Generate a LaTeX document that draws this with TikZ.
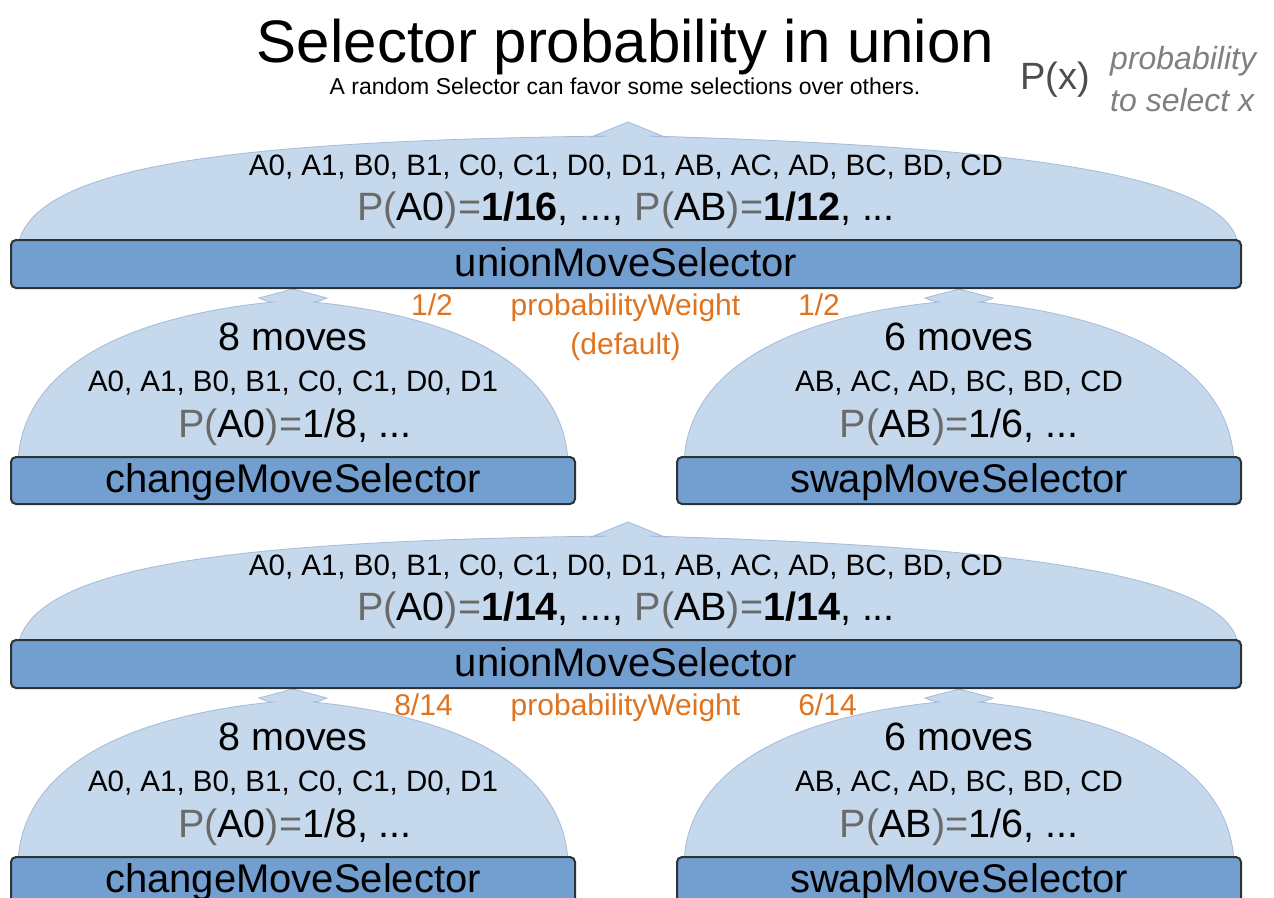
\documentclass[tikz,border=0pt]{standalone}
\usepackage{fontspec}
\setmainfont{Liberation Sans}
\definecolor{boxblue}{HTML}{729FCF}
\definecolor{arrowblue}{HTML}{C6D8EC}
\definecolor{arrowedge}{HTML}{A3BCD9}
\definecolor{boxedge}{HTML}{2E3436}
\definecolor{pgray}{HTML}{6A6A6A}
\definecolor{legendgray}{HTML}{4D4D4D}
\definecolor{italgray}{HTML}{808080}
\definecolor{worange}{HTML}{E0731F}
\newcommand\Pg{\textcolor{pgray}{P(}}
\newcommand\Pc{\textcolor{pgray}{)=}}
\tikzset{
  arrowstyle/.style={fill=arrowblue, draw=arrowedge, line width=0.8},
  selbox/.style={draw=boxedge, fill=boxblue, line width=2, rounded corners=5, inner sep=0},
  boxlabel/.style={inner sep=0, anchor=base, font=\fontsize{40}{48}\selectfont},
  bigtxt/.style={inner sep=0, anchor=base, font=\fontsize{39.5}{47}\selectfont},
  listtxt/.style={inner sep=0, anchor=base, font=\fontsize{29.5}{35}\selectfont},
  ortxt/.style={inner sep=0, anchor=base, text=worange, font=\fontsize{30}{36}\selectfont},
}
\newcommand\childarrow[1]{%
  \begin{scope}[shift={(#1,0)}]
    \filldraw[arrowstyle] (-275,462) .. controls (-270,360) and (-152,315) .. (-20,302)
      .. controls (-27,301) .. (-34,298) -- (0,289) -- (34,298)
      .. controls (27,301) .. (20,302)
      .. controls (152,315) and (270,360) .. (275,462) -- cycle;
  \end{scope}}
% #1 prefix, #2 y shift, #3 P(A0) value, #4 P(AB) value, #5 left x, #6 left weight, #7 right x, #8 right weight
\newcommand\drawtier[8]{%
  \begin{scope}[shift={(0,#2)}, name prefix=#1-]
    % union arrow
    \filldraw[arrowstyle] (18,245) .. controls (35,162) and (250,141) .. (607,136)
      .. controls (599,136) .. (591,137) -- (628,122) -- (665,137)
      .. controls (657,136) .. (649,136)
      .. controls (950,145) and (1228,165) .. (1238,245) -- cycle;
    \node[listtxt] (ulist) at (626,175) {A0, A1, B0, B1, C0, C1, D0, D1, AB, AC, AD, BC, BD, CD};
    \node[bigtxt] (uprob) at (626,220) {\Pg A0\Pc\textbf{#3}, ..., \Pg AB\Pc\textbf{#4}, ...};
    % child arrows
    \childarrow{293}
    \childarrow{959}
    % union box
    \node[selbox, minimum width=1230, minimum height=48] (ubox) at (626,264) {};
    \node[boxlabel] (ulabel) at (626,276.5) {unionMoveSelector};
    % weights
    \node[ortxt] (wleft) at (#5,315) {#6};
    \node[ortxt] (wmid) at (625.5,315) {probabilityWeight};
    \node[ortxt] (wright) at (#7,315) {#8};
    % change selector
    \node[bigtxt] (cmoves) at (293,350) {8 moves};
    \node[listtxt] (clist) at (293,391) {A0, A1, B0, B1, C0, C1, D0, D1};
    \node[bigtxt] (cprob) at (295,437) {\Pg A0\Pc 1/8, ...};
    \node[selbox, minimum width=564, minimum height=47] (cbox) at (293,480.5) {};
    \node[boxlabel] (clabel) at (293,492.5) {changeMoveSelector};
    % swap selector
    \node[bigtxt] (smoves) at (959,350) {6 moves};
    \node[listtxt] (slist) at (959,391) {AB, AC, AD, BC, BD, CD};
    \node[bigtxt] (sprob) at (959,437) {\Pg AB\Pc 1/6, ...};
    \node[selbox, minimum width=564, minimum height=47] (sbox) at (959,480.5) {};
    \node[boxlabel] (slabel) at (959,492.5) {swapMoveSelector};
  \end{scope}}
\begin{document}
\begin{tikzpicture}[x=1pt, y=-1pt]
  \useasboundingbox (0,0) rectangle (1274,897);
  \clip (0,0) rectangle (1274,897);
  \fill[white] (0,0) rectangle (1274,897);
  \node[inner sep=0, anchor=base, font=\fontsize{60}{70}\selectfont] (title) at (625.5,62) {Selector probability in union};
  \node[inner sep=0, anchor=base, font=\fontsize{23}{27}\selectfont] (subtitle) at (625,94) {A random Selector can favor some selections over others.};
  \node[inner sep=0, anchor=base west, text=legendgray, font=\fontsize{38}{45}\selectfont] (px) at (1020,89) {P(x)};
  \node[inner sep=0, anchor=base west, text=italgray, font=\fontsize{32}{38}\selectfont\itshape] (pxl1) at (1110,69) {probability};
  \node[inner sep=0, anchor=base west, text=italgray, font=\fontsize{32}{38}\selectfont\itshape] (pxl2) at (1110,111) {to select x};
  \drawtier{top}{0}{1/16}{1/12}{432}{1/2}{819}{1/2}
  \node[ortxt] (default) at (625.5,354) {(default)};
  \drawtier{bot}{400}{1/14}{1/14}{423.5}{8/14}{827.5}{6/14}
\end{tikzpicture}
\end{document}
